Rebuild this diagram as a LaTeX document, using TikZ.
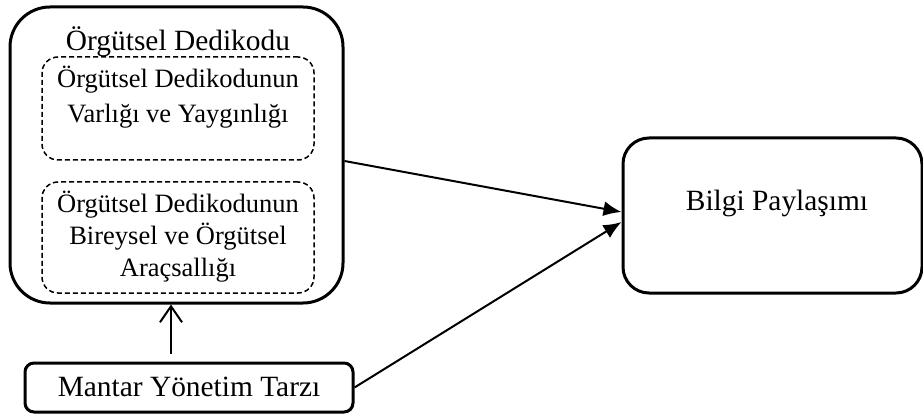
\documentclass[tikz,border=0pt]{standalone}
\usepackage{fontspec}
\setmainfont{Liberation Serif}
\usetikzlibrary{arrows.meta}
\begin{document}
\begin{tikzpicture}[x=1pt,y=-1pt,
  box/.style={draw,line width=3pt,rounded corners=#1,inner sep=0pt},
  dbox/.style={draw,line width=1.5pt,dash pattern=on 5pt off 3pt,rounded corners=16pt,inner sep=0pt,minimum width=272pt},
  txt/.style={align=center,inner sep=0pt,font=\fontsize{29.4}{35}\selectfont},
  itxt/.style={align=center,inner sep=0pt,font=\fontsize{26.5}{35}\selectfont},
  farrow/.style={line width=2pt,-{Latex[length=18pt,width=15pt]}},
  uparrow/.style={line width=2pt,-{Straight Barb[length=16pt,width=22pt,line width=2pt]}}
]
\useasboundingbox (0,0) rectangle (923,414);
\node[box=40pt,minimum width=333pt,minimum height=296pt] (outer) at (176.5,155) {};
\node[txt] (title) at (178,42) {Örgütsel Dedikodu};
\node[dbox,minimum height=103pt] (b1) at (178,108.5) {};
\node[itxt] (t1) at (178,97) {Örgütsel Dedikodunun\\Varlığı ve Yaygınlığı};
\node[dbox,minimum height=111pt] (b2) at (178,237.5) {};
\node[itxt,font=\fontsize{26.5}{32}\selectfont] (t2) at (178,236.5) {Örgütsel Dedikodunun\\Bireysel ve Örgütsel\\Araçsallığı};
\node[box=9pt,minimum width=328pt,minimum height=49pt] (mantar) at (189,387.5) {};
\node[txt] (mt) at (189,387) {Mantar Yönetim Tarzı};
\node[box=26pt,minimum width=299pt,minimum height=155pt] (bilgi) at (772.5,215.5) {};
\node[txt] (bt) at (777,203) {Bilgi Paylaşımı};
\draw[farrow] ([yshift=-6pt]outer.east) -- ([yshift=3.5pt]bilgi.west);
\draw[farrow] (mantar.east) -- ([yshift=-6.5pt]bilgi.west);
\draw[uparrow,shorten <=8pt] ([xshift=-18pt]mantar.north) -- ([xshift=-18pt]mantar.north |- outer.south);
\end{tikzpicture}
\end{document}
